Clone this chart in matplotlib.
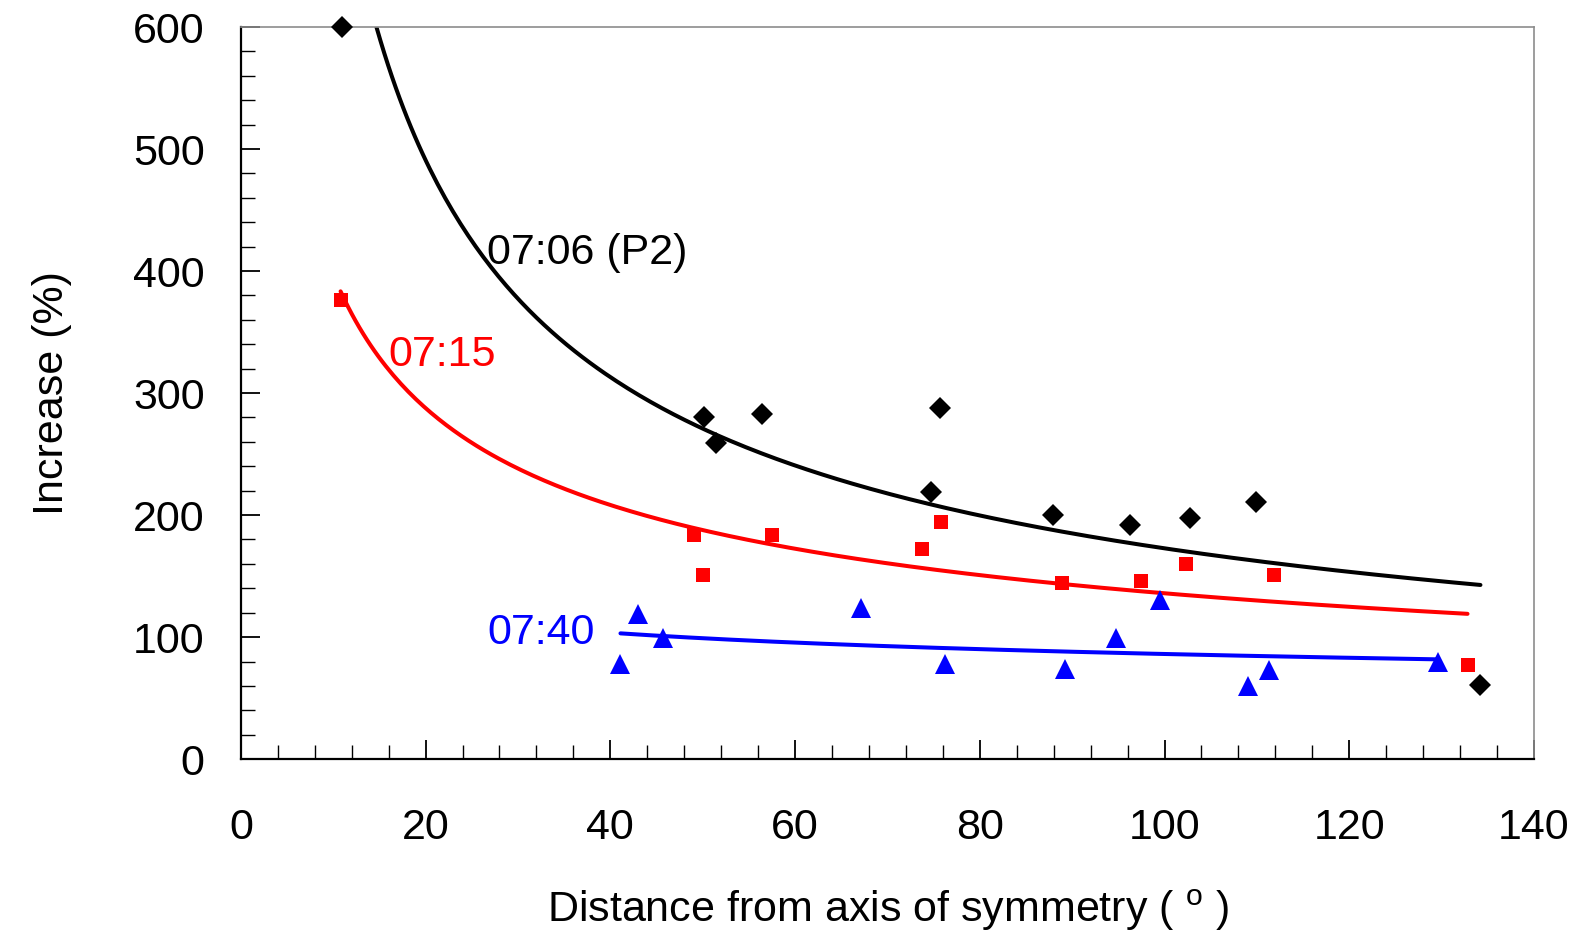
import numpy as np
import matplotlib.pyplot as plt
from matplotlib.ticker import MultipleLocator

plt.rcParams['font.family'] = ['Liberation Sans', 'DejaVu Sans']
plt.rcParams['mathtext.fontset'] = 'custom'
plt.rcParams['mathtext.rm'] = 'Liberation Sans'

# 07:06 (P2)
x_0706 = [11.0, 50.1, 51.4, 56.4, 75.7, 74.7, 87.9, 96.3, 102.8, 109.9, 134.2]
y_0706 = [600, 280, 259, 283, 288, 219, 200, 192, 198, 211, 61]
# 07:15
x_0715 = [10.8, 49.1, 50.0, 57.5, 73.7, 75.8, 88.9, 97.5, 102.3, 111.8, 132.8]
y_0715 = [376, 184, 151, 184, 172, 194, 144, 146, 160, 151, 77]
# 07:40
x_0740 = [41.1, 43.0, 45.7, 67.1, 76.2, 89.2, 94.7, 99.5, 109.0, 111.3, 129.6]
y_0740 = [78, 119, 99, 124, 78, 74, 99, 130, 60, 73, 80]

# power-law trend lines  y = a * x**b
fit_0706 = (3431.0, -0.649)
fit_0715 = (1162.0, -0.466)
fit_0740 = (218.0, -0.2016)

fig = plt.figure(figsize=(15.74, 9.32), dpi=100)
ax = fig.add_axes([0.153, 0.1855, 0.8216, 0.7855])

series = [
    (x_0706, y_0706, fit_0706, 'black', 'D', 11.5),
    (x_0715, y_0715, fit_0715, 'red', 's', 9.7),
    (x_0740, y_0740, fit_0740, 'blue', '^', 14),
]
for xs, ys, (a, b), col, mk, ms in series:
    xf = np.linspace(min(xs), max(xs), 300)
    ax.plot(xf, a * xf**b, color=col, lw=2.9, solid_capstyle='round', zorder=2)
    ax.plot(xs, ys, linestyle='none', marker=mk, color=col, markersize=ms,
            markeredgewidth=0, clip_on=False, zorder=3)

ax.text(26.6, 406, '07:06 (P2)', color='black', fontsize=31, va='baseline')
ax.text(16.0, 322, '07:15', color='red', fontsize=31, va='baseline')
ax.text(26.7, 94, '07:40', color='blue', fontsize=31, va='baseline')

ax.set_xlim(0, 140)
ax.set_ylim(0, 600)
ax.xaxis.set_major_locator(MultipleLocator(20))
ax.xaxis.set_minor_locator(MultipleLocator(4))
ax.yaxis.set_major_locator(MultipleLocator(100))
ax.yaxis.set_minor_locator(MultipleLocator(20))
ax.tick_params(which='both', direction='in', labelsize=31, color='black')
ax.tick_params(axis='x', which='major', length=14, width=1.3, pad=35)
ax.tick_params(axis='x', which='minor', length=10, width=1.0)
ax.tick_params(axis='y', which='major', length=14, width=1.3, pad=26)
ax.tick_params(axis='y', which='minor', length=10, width=1.0)

for s in ['left', 'bottom']:
    ax.spines[s].set_color('black')
    ax.spines[s].set_linewidth(1.6)
for s in ['top', 'right']:
    ax.spines[s].set_color('#8c8c8c')
    ax.spines[s].set_linewidth(1.2)

ax.set_xlabel(r'Distance from axis of symmetry ( $^{\rm o}$ )', fontsize=31, labelpad=29)
ax.set_ylabel('Increase (%)', fontsize=31, labelpad=44)

fig.savefig('out.png', dpi=100)
